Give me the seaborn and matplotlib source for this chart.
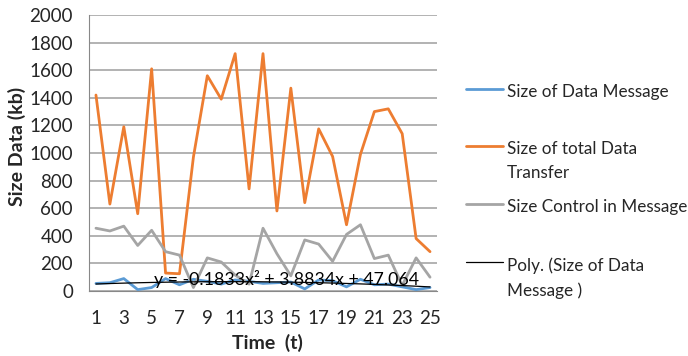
import numpy as np
import pandas as pd
import matplotlib
matplotlib.use("Agg")
import matplotlib.pyplot as plt
from matplotlib.lines import Line2D
import seaborn as sns

# data
time_t = list(range(1, 26))
data_msg = [55, 60, 90, 10, 25, 90, 45, 85, 70, 50, 80, 70, 55, 60, 65,
            15, 80, 75, 30, 85, 45, 50, 30, 10, 25]
total_transfer = [1420, 630, 1190, 560, 1610, 130, 125, 970, 1560, 1390, 1720, 740, 1720,
                  580, 1470, 640, 1175, 975, 480, 990, 1300, 1320, 1140, 380, 285]
control_msg = [455, 435, 470, 330, 440, 285, 260, 25, 240, 210, 115, 50, 455, 270, 110,
               370, 340, 215, 410, 480, 235, 260, 40, 240, 100]
poly_coef = [-0.1833, 3.8834, 47.064]  # trendline from the chart label
y_ticks = list(range(0, 2001, 200))
x_ticks = list(range(1, 26, 2))
series_names = ["Size of Data Message", "Size of total Data\nTransfer",
                "Size Control in Message", "Poly. (Size of Data\nMessage )"]
series_colors = ["#5B9BD5", "#ED7D31", "#A5A5A5", "black"]
series_widths = [2.0, 2.0, 2.0, 0.9]

df = pd.DataFrame({"t": time_t,
                   series_names[0]: data_msg,
                   series_names[1]: total_transfer,
                   series_names[2]: control_msg})
df[series_names[3]] = np.polyval(poly_coef, df["t"])
long = df.melt(id_vars="t", var_name="series", value_name="size")

sns.set_style("white")
plt.rcParams["font.family"] = ["Lato", "DejaVu Sans"]

W, H = 688, 356
fig = plt.figure(figsize=(W / 100, H / 100), dpi=100)
ax = fig.add_axes([89 / W, 65 / H, 348 / W, 276 / H])

for name, c, lw in zip(series_names, series_colors, series_widths):
    sub = long[long["series"] == name]
    sns.lineplot(data=sub, x="t", y="size", ax=ax, color=c, linewidth=lw, legend=False)

ax.set_xlim(0.5, 25.5)
ax.set_ylim(0, 2000)
ax.set_yticks(y_ticks)
ax.set_xticks(x_ticks)
ax.set_xticks(np.arange(0.5, 25.6, 1), minor=True)
ax.tick_params(axis="x", which="major", length=0, labelsize=13.5, pad=14)
ax.tick_params(axis="x", which="minor", length=4, color="#888888", direction="out")
ax.tick_params(axis="y", length=4.5, color="#888888", labelsize=13.5, pad=7)
ax.grid(axis="y", color="#A6A6A6", linewidth=1.2)
ax.set_axisbelow(True)
for s in ["top", "right"]:
    ax.spines[s].set_visible(False)
ax.spines["left"].set_color("#888888")
ax.spines["bottom"].set_color("#888888")

ax.set_xlabel("")
ax.set_ylabel("")
fig.text(267 / W, 1 - 343 / H, "Time  (t)", fontsize=14, fontweight="bold",
         ha="center", va="center")
fig.text(17 / W, 1 - 146 / H, "Size Data (kb)", fontsize=14, fontweight="bold",
         ha="center", va="center", rotation=90)

ax.text(14.7, 87, "y = -0.1833x² + 3.8834x + 47.064", fontsize=12.8,
        ha="center", va="center", color="black")

# legend drawn by hand so that entries sit like the original
leg_y = [89, 146, 204, 262]
for name, c, lw, yy in zip(series_names, series_colors, series_widths, leg_y):
    fy = 1 - yy / H
    fig.add_artist(Line2D([466 / W, 503 / W], [fy, fy], color=c, linewidth=lw,
                          transform=fig.transFigure))
    fig.text(507 / W, fy + 5 / H, name, fontsize=12.3, ha="left", va="top",
             linespacing=1.65)

fig.savefig("out.png", dpi=100)
